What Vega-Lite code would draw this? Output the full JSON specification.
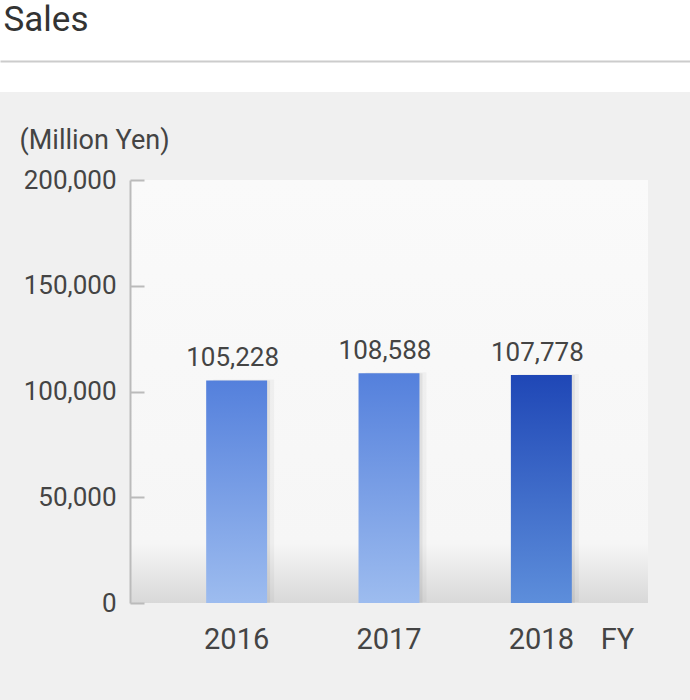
{
  "$schema": "https://vega.github.io/schema/vega-lite/v6.json",
  "background": "#f0f0f0",
  "padding": {"left": 0, "top": 0, "right": 0, "bottom": 81},
  "bounds": "flush",
  "spacing": 88,
  "config": {
    "font": "Roboto",
    "view": {"stroke": null},
    "axis": {"grid": false}
  },
  "vconcat": [
    {
      "width": 690,
      "height": 92,
      "view": {"fill": "#ffffff", "stroke": null},
      "data": {"values": [{}]},
      "mark": {"type": "point", "opacity": 0, "size": 0, "strokeWidth": 0},
      "encoding": {
        "x": {
          "datum": 0,
          "type": "quantitative",
          "scale": {"domain": [-1, 1]},
          "axis": {
            "title": "Sales",
            "titleX": 3,
            "titleY": -31,
            "titleAlign": "left",
            "titleBaseline": "alphabetic",
            "titleFontSize": 35,
            "titleFontWeight": "normal",
            "titleColor": "#333333",
            "labels": false,
            "ticks": false,
            "domainColor": "#cccccc",
            "domainWidth": 2,
            "offset": -31
          }
        }
      }
    },
    {
      "bounds": "flush",
      "spacing": 0,
      "hconcat": [
        {
          "width": 130,
          "height": 423,
          "data": {"values": [{}]},
          "mark": {"type": "point", "opacity": 0, "size": 0, "strokeWidth": 0}
        },
        {
          "width": 518,
          "height": 423,
          "view": {
            "stroke": null,
            "fill": {
              "gradient": "linear",
              "x1": 0, "y1": 0, "x2": 0, "y2": 1,
              "stops": [
                {"offset": 0, "color": "#fafafa"},
                {"offset": 0.86, "color": "#f6f6f6"},
                {"offset": 1, "color": "#d8d8d8"}
              ]
            }
          },
          "data": {
            "values": [
              {"year": "2016", "sales": 105228},
              {"year": "2017", "sales": 108588},
              {"year": "2018", "sales": 107778}
            ]
          },
          "encoding": {
            "x": {
              "field": "year",
              "type": "nominal",
              "sort": null,
              "scale": {"paddingInner": 0.6, "paddingOuter": 0.5},
              "axis": {
                "title": "FY",
                "titleX": 487,
                "titleY": 36,
                "titleAlign": "center",
                "titleBaseline": "middle",
                "titleFontSize": 29,
                "titleFontWeight": "normal",
                "titleColor": "#444444",
                "domain": false,
                "ticks": false,
                "labelAngle": 0,
                "labelFontSize": 29,
                "labelColor": "#444444",
                "labelBaseline": "middle",
                "labelPadding": 36
              }
            },
            "y": {
              "field": "sales",
              "type": "quantitative",
              "scale": {"domain": [0, 200000]},
              "axis": {
                "title": "(Million Yen)",
                "titleAngle": 0,
                "titleAlign": "left",
                "titleBaseline": "middle",
                "titleX": -111,
                "titleY": -40,
                "titleFontSize": 27,
                "titleFontWeight": "normal",
                "titleColor": "#444444",
                "values": [0, 50000, 100000, 150000, 200000],
                "format": ",d",
                "domainColor": "#bbbbbb",
                "domainWidth": 2,
                "tickColor": "#bbbbbb",
                "tickWidth": 2,
                "tickSize": -14,
                "labelPadding": 28,
                "labelFontSize": 26,
                "labelColor": "#444444"
              }
            }
          },
          "layer": [
            {"mark": {"type": "bar", "color": "#000000", "opacity": 0.035, "xOffset": 7, "yOffset": -1}},
            {"mark": {"type": "bar", "color": "#000000", "opacity": 0.06, "xOffset": 3}},
            {
              "mark": {"type": "bar"},
              "encoding": {
                "color": {
                  "condition": {
                    "test": "datum.year == '2018'",
                    "value": {
                      "gradient": "linear",
                      "x1": 0, "y1": 0, "x2": 0, "y2": 1,
                      "stops": [
                        {"offset": 0, "color": "#1f47b6"},
                        {"offset": 1, "color": "#5d8edb"}
                      ]
                    }
                  },
                  "value": {
                    "gradient": "linear",
                    "x1": 0, "y1": 0, "x2": 0, "y2": 1,
                    "stops": [
                      {"offset": 0, "color": "#5480dc"},
                      {"offset": 1, "color": "#9dbcef"}
                    ]
                  }
                }
              }
            },
            {
              "mark": {
                "type": "text",
                "baseline": "alphabetic",
                "dy": -14,
                "dx": -4,
                "fontSize": 26,
                "color": "#444444"
              },
              "encoding": {
                "text": {"field": "sales", "type": "quantitative", "format": ","}
              }
            }
          ]
        }
      ]
    }
  ]
}
